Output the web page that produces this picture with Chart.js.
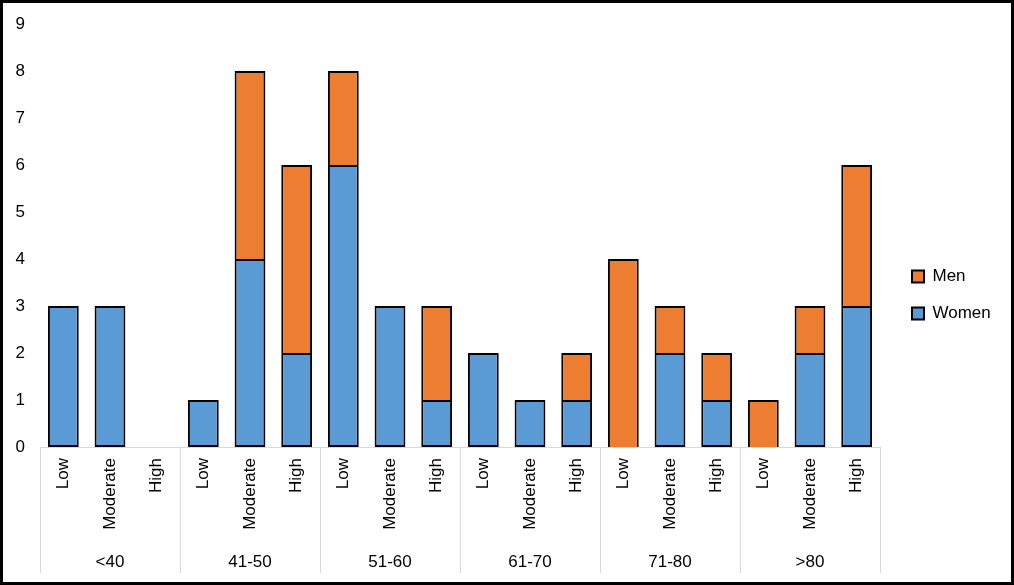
<!DOCTYPE html>
<html>
<head>
<meta charset="utf-8">
<script src="https://cdn.jsdelivr.net/npm/chart.js@4"></script>
<style>
  html, body { margin: 0; padding: 0; background: #fff; }
  #wrap { position: absolute; left: 0; top: 0; width: 1014px; height: 585px; box-sizing: border-box; border: 3px solid #000; background: #fff; }
  canvas { display: block; }
</style>
</head>
<body>
<div id="wrap"><canvas id="c" width="1008" height="579"></canvas></div>
<script>
const ageGroups = ['<40', '41-50', '51-60', '61-70', '71-80', '>80'];
const levels = ['Low', 'Moderate', 'High'];
const women = [3, 3, 0, 1, 4, 2, 6, 3, 1, 2, 1, 1, 0, 2, 1, 0, 2, 3];
const men   = [0, 0, 0, 0, 4, 4, 2, 0, 2, 0, 0, 1, 4, 1, 1, 1, 1, 3];
const yTicks = [0, 1, 2, 3, 4, 5, 6, 7, 8, 9];

const labels = [];
ageGroups.forEach(() => levels.forEach(l => labels.push(l)));
const nz = a => a.map(v => v === 0 ? null : v);

const FONT = 'Liberation Sans';
const FS = 17;

const groupPlugin = {
  id: 'groups',
  beforeUpdate(chart) {
    const lg = chart.legend;
    if (lg && !lg._patched) {
      const orig = lg.fit;
      lg.fit = function () { orig.call(this); this.width = 131; };
      lg._patched = true;
    }
  },
  afterLayout(chart) {
    chart.legend.left += 12;
    chart.legend.top -= 8;
    chart.legend.bottom -= 8;
  },
  afterDraw(chart) {
    const ctx = chart.ctx;
    const xs = chart.scales.x;
    const area = chart.chartArea;
    const n = levels.length;
    const step = (area.right - area.left) / ageGroups.length;
    ctx.save();
    ctx.strokeStyle = '#d9d9d9';
    ctx.lineWidth = 1;
    for (let g = 0; g <= ageGroups.length; g++) {
      const x = Math.round(area.left + g * step) + 0.5;
      ctx.beginPath();
      ctx.moveTo(x, area.bottom);
      ctx.lineTo(x, 570);
      ctx.stroke();
    }
    ctx.fillStyle = '#000';
    ctx.font = FS + 'px "' + FONT + '"';
    ctx.textAlign = 'center';
    ctx.textBaseline = 'middle';
    ageGroups.forEach((g, i) => {
      const x0 = xs.getPixelForValue(i * n);
      const x1 = xs.getPixelForValue(i * n + n - 1);
      ctx.fillText(g, (x0 + x1) / 2, 559);
    });
    ctx.restore();
  }
};

new Chart(document.getElementById('c'), {
  type: 'bar',
  data: {
    labels: labels,
    datasets: [
      { label: 'Women', data: nz(women), backgroundColor: '#5B9BD5', borderColor: '#000', borderWidth: 2, borderSkipped: false },
      { label: 'Men', data: nz(men), backgroundColor: '#ED7D31', borderColor: '#000', borderWidth: 2, borderSkipped: 'start' }
    ]
  },
  options: {
    responsive: false,
    animation: false,
    devicePixelRatio: 1,
    layout: { padding: { top: 21, left: 0, right: 0, bottom: 0 } },
    datasets: { bar: { categoryPercentage: 1, barPercentage: 0.66 } },
    plugins: {
      tooltip: { enabled: false },
      legend: {
        position: 'right',
        reverse: true,
        labels: { boxWidth: 12, boxHeight: 12, padding: 20, color: '#000', font: { family: FONT, size: FS } }
      }
    },
    scales: {
      x: {
        stacked: true,
        grid: { display: false, drawTicks: false },
        border: { display: true, color: '#d9d9d9', width: 1 },
        ticks: { autoSkip: false, minRotation: 90, maxRotation: 90, padding: 11, color: '#000', font: { family: FONT, size: FS } },
        afterFit(s) { s.height = 135; s.paddingLeft = 0; s.paddingRight = 0; s.paddingTop = 0; s.paddingBottom = 0; }
      },
      y: {
        stacked: true,
        min: 0, max: 9,
        afterBuildTicks(s) { s.ticks = yTicks.map(v => ({ value: v })); },
        grid: { display: false, drawTicks: false },
        border: { display: false },
        ticks: { padding: 15, color: '#000', font: { family: FONT, size: FS } },
        afterFit(s) { s.width = 37; s.paddingTop = 0; s.paddingBottom = 0; s.paddingLeft = 0; s.paddingRight = 0; }
      }
    }
  },
  plugins: [groupPlugin]
});
</script>
</body>
</html>
